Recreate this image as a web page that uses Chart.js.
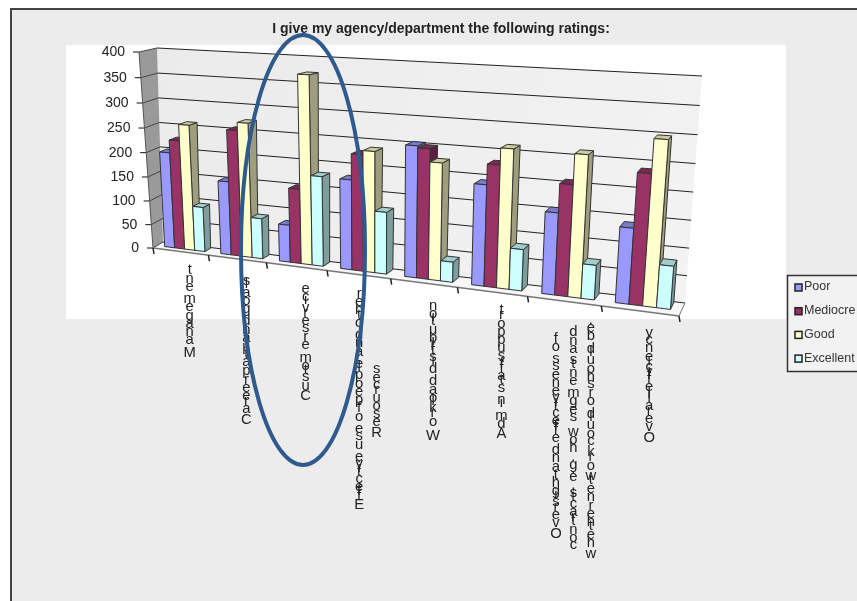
<!DOCTYPE html>
<html>
<head>
<meta charset="utf-8">
<title>Agency ratings</title>
<script src="https://cdn.jsdelivr.net/npm/chart.js@4/dist/chart.umd.js"></script>
<style>
  html, body { margin: 0; padding: 0; background: #fff; }
  canvas { display: block; filter: blur(0.4px); }
</style>
</head>
<body>
<canvas id="chart" width="857" height="601"></canvas>
<script>
const chartTitle = 'I give my agency/department the following ratings:'
const categories = [
  ['Management'],
  ['Career path and goals'],
  ['Customer service'],
  ['Effective use of people and other', 'Resources'],
  ['Workload distribution'],
  ['Admin staff support'],
  ['Oversight and effectiveness of', 'contracts, e.g. how segments and', 'whether network could or should be.'],
  ['Overall efficiency'],
]
const poor      = [198, 150,  75, 177, 252, 191, 152, 138]
const mediocre  = [224, 254, 149, 227, 248, 229, 205, 236]
const good      = [257, 270, 370, 235, 224, 260, 260, 296]
const excellent = [ 92,  82, 178, 121,  39,  78,  64,  78]
const seriesNames = ['Poor', 'Mediocre', 'Good', 'Excellent']
const seriesColors = ['#9999FF', '#993366', '#FFFFCC', '#CCFFFF']
const seriesValues = [poor, mediocre, good, excellent]

// corners of the tilted plot: front plane and back wall
const FRONT = { bl: [153, 248], br: [679, 316], tl: [139, 52], tr: [698, 80] }
const BACK  = { bl: [163, 242], br: [685, 303], tl: [157, 48], tr: [702, 76] }
const BAR_D0 = 0.4
const BAR_D1 = 0.92
const FONT = '"Liberation Sans", Arial, sans-serif'

// unit square -> quad (u right, v up)
function homography(q) {
  const [x0, y0] = q.bl, [x1, y1] = q.br, [x2, y2] = q.tr, [x3, y3] = q.tl
  const dx1 = x1 - x2, dx2 = x3 - x2, sx = x0 - x1 + x2 - x3
  const dy1 = y1 - y2, dy2 = y3 - y2, sy = y0 - y1 + y2 - y3
  const den = dx1 * dy2 - dx2 * dy1
  const g = (sx * dy2 - dx2 * sy) / den
  const h = (dx1 * sy - sx * dy1) / den
  const a = x1 - x0 + g * x1, b = x3 - x0 + h * x3
  const d = y1 - y0 + g * y1, e = y3 - y0 + h * y3
  return (u, v) => {
    const w = g * u + h * v + 1
    return [(a * u + b * v + x0) / w, (d * u + e * v + y0) / w]
  }
}
const frontH = homography(FRONT)
const backH = homography(BACK)

function shade(hex, f) {
  const n = parseInt(hex.slice(1), 16)
  const c = [n >> 16, (n >> 8) & 255, n & 255].map(v => Math.round(v * f))
  return `rgb(${c[0]},${c[1]},${c[2]})`
}

function poly(ctx, pts, fill, stroke) {
  ctx.beginPath()
  pts.forEach((p, i) => i ? ctx.lineTo(p[0], p[1]) : ctx.moveTo(p[0], p[1]))
  ctx.closePath()
  if (fill) { ctx.fillStyle = fill; ctx.fill() }
  if (stroke) { ctx.strokeStyle = stroke; ctx.lineWidth = 1; ctx.stroke() }
}

function line(ctx, a, b, color, width) {
  ctx.beginPath()
  ctx.moveTo(a[0], a[1])
  ctx.lineTo(b[0], b[1])
  ctx.strokeStyle = color
  ctx.lineWidth = width || 1
  ctx.stroke()
}

// pixel from the chart scales -> tilted position at a given depth
function projector(chart) {
  const area = chart.chartArea
  return (x, y, depth) => {
    const u = (x - area.left) / (area.right - area.left)
    const v = (area.bottom - y) / (area.bottom - area.top)
    const f = frontH(u, v), b = backH(u, v)
    return [f[0] + (b[0] - f[0]) * depth, f[1] + (b[1] - f[1]) * depth]
  }
}

const scene3d = {
  id: 'scene3d',
  beforeDraw(chart) {
    const ctx = chart.ctx
    ctx.save()
    ctx.fillStyle = '#ffffff'
    ctx.fillRect(0, 0, 857, 601)
    ctx.fillStyle = '#ececec'
    ctx.fillRect(11, 9, 846, 592)
    ctx.fillStyle = '#ffffff'
    ctx.fillRect(66, 45, 720, 274)
    ctx.fillStyle = '#444444'
    ctx.fillRect(10, 8, 847, 2)
    ctx.fillRect(10, 8, 2, 593)
    ctx.restore()
  },
  beforeDatasetsDraw(chart) {
    const ctx = chart.ctx
    const P = projector(chart)
    const ys = chart.scales.y
    const L = chart.chartArea.left, R = chart.chartArea.right
    const y0 = ys.getPixelForValue(0), yMax = ys.getPixelForValue(ys.max)

    ctx.save()
    // walls and floor
    const wall = ctx.createLinearGradient(160, 50, 700, 300)
    wall.addColorStop(0, '#ebebeb')
    wall.addColorStop(1, '#f3f3f3')
    poly(ctx, [P(L, y0, 1), P(R, y0, 1), P(R, yMax, 1), P(L, yMax, 1)], wall)
    poly(ctx, [P(L, y0, 0), P(L, y0, 1), P(L, yMax, 1), P(L, yMax, 0)], '#9a9a9a')
    poly(ctx, [P(L, y0, 0), P(R, y0, 0), P(R, y0, 1), P(L, y0, 1)], '#f7f7f7')

    // gridlines and value labels
    ctx.font = '14px ' + FONT
    ctx.textAlign = 'right'
    ctx.textBaseline = 'middle'
    ys.ticks.forEach(t => {
      const y = ys.getPixelForValue(t.value)
      const a = P(L, y, 0), b = P(L, y, 1), c = P(R, y, 1)
      line(ctx, a, b, '#444444')
      line(ctx, b, c, '#222222')
      line(ctx, [a[0] - 6, a[1]], a, '#111111')
      ctx.fillStyle = '#222222'
      ctx.fillText(t.label, a[0] - 14, a[1])
    })
    line(ctx, P(L, y0, 0), P(L, yMax, 0), '#555555')
    line(ctx, P(L, y0, 0), P(R, y0, 0), '#777777', 1.5)
    line(ctx, P(R, y0, 0), P(R, y0, 1), '#777777')

    // tick marks on the category axis, at the edges of each category
    const step = (R - L) / categories.length
    for (let i = 0; i <= categories.length; i++) {
      const a = P(L + i * step, y0, 0)
      line(ctx, a, [a[0] + 1, a[1] + 6], '#222222', 1.5)
    }

    // bars
    categories.forEach((c, i) => {
      chart.data.datasets.forEach((ds, k) => {
        const bar = chart.getDatasetMeta(k).data[i]
        const x0 = bar.x - bar.width / 2, x1 = bar.x + bar.width / 2
        const color = ds.backgroundColor
        const edge = '#333333'
        poly(ctx, [P(x1, bar.base, BAR_D0), P(x1, bar.base, BAR_D1), P(x1, bar.y, BAR_D1), P(x1, bar.y, BAR_D0)], shade(color, 0.62), edge)
        poly(ctx, [P(x0, bar.y, BAR_D0), P(x1, bar.y, BAR_D0), P(x1, bar.y, BAR_D1), P(x0, bar.y, BAR_D1)], shade(color, 0.8), edge)
        poly(ctx, [P(x0, bar.base, BAR_D0), P(x1, bar.base, BAR_D0), P(x1, bar.y, BAR_D0), P(x0, bar.y, BAR_D0)], color, edge)
      })
    })

    // category labels: upright letters stacked upwards, spaced by letter width
    ctx.fillStyle = '#222222'
    ctx.textAlign = 'center'
    ctx.textBaseline = 'bottom'
    ctx.font = '14.8px ' + FONT
    categories.forEach((lines, i) => {
      const a = P(L + i * step, y0, 0), b = P(L + (i + 1) * step, y0, 0)
      const midX = (a[0] + b[0]) / 2 + 9
      const top = (a[1] + b[1]) / 2 + 10
      const lens = lines.map(s => ctx.measureText(s).width)
      const longest = Math.max(...lens)
      lines.forEach((s, j) => {
        const lx = midX + (j - (lines.length - 1) / 2) * 17.5
        let cy = top + 12 + (longest + lens[j]) / 2
        for (const ch of s) {
          ctx.fillText(ch, lx, cy)
          cy -= ctx.measureText(ch).width
        }
      })
    })

    // title
    ctx.fillStyle = '#222222'
    ctx.font = 'bold 14px ' + FONT
    ctx.textAlign = 'center'
    ctx.textBaseline = 'middle'
    ctx.fillText(chartTitle, 441, 29)

    // legend
    ctx.fillStyle = '#f2f2f2'
    ctx.fillRect(787, 275, 80, 96)
    ctx.strokeStyle = '#333333'
    ctx.lineWidth = 1.5
    ctx.strokeRect(787.5, 275.5, 80, 96)
    ctx.font = '12.5px ' + FONT
    ctx.textAlign = 'left'
    chart.data.datasets.forEach((ds, k) => {
      const ly = 287 + k * 23.7
      ctx.fillStyle = ds.backgroundColor
      ctx.fillRect(795, ly - 3, 7, 7)
      ctx.strokeStyle = '#222222'
      ctx.lineWidth = 1.5
      ctx.strokeRect(795, ly - 3, 7, 7)
      ctx.fillStyle = '#333333'
      ctx.fillText(ds.label, 804, ly)
    })
    ctx.restore()
    return false
  },
  afterDraw(chart) {
    // hand-drawn ellipse over the Customer service column
    const ctx = chart.ctx
    ctx.save()
    ctx.beginPath()
    ctx.ellipse(303, 250, 62, 215, 0, 0, Math.PI * 2)
    ctx.strokeStyle = '#2E5A8E'
    ctx.lineWidth = 4
    ctx.stroke()
    ctx.restore()
  },
}

new Chart(document.getElementById('chart'), {
  type: 'bar',
  data: {
    labels: categories.map(c => c.join(' ')),
    datasets: seriesNames.map((name, k) => ({
      label: name,
      data: seriesValues[k],
      backgroundColor: seriesColors[k],
      categoryPercentage: 0.72,
      barPercentage: 1,
    })),
  },
  options: {
    responsive: false,
    animation: false,
    layout: { padding: { left: 153, right: 178, top: 52, bottom: 353 } },
    plugins: { legend: { display: false }, tooltip: { enabled: false } },
    scales: {
      x: { display: false },
      y: { display: false, min: 0, max: 400, ticks: { stepSize: 50 } },
    },
  },
  plugins: [scene3d],
})
</script>
</body>
</html>
